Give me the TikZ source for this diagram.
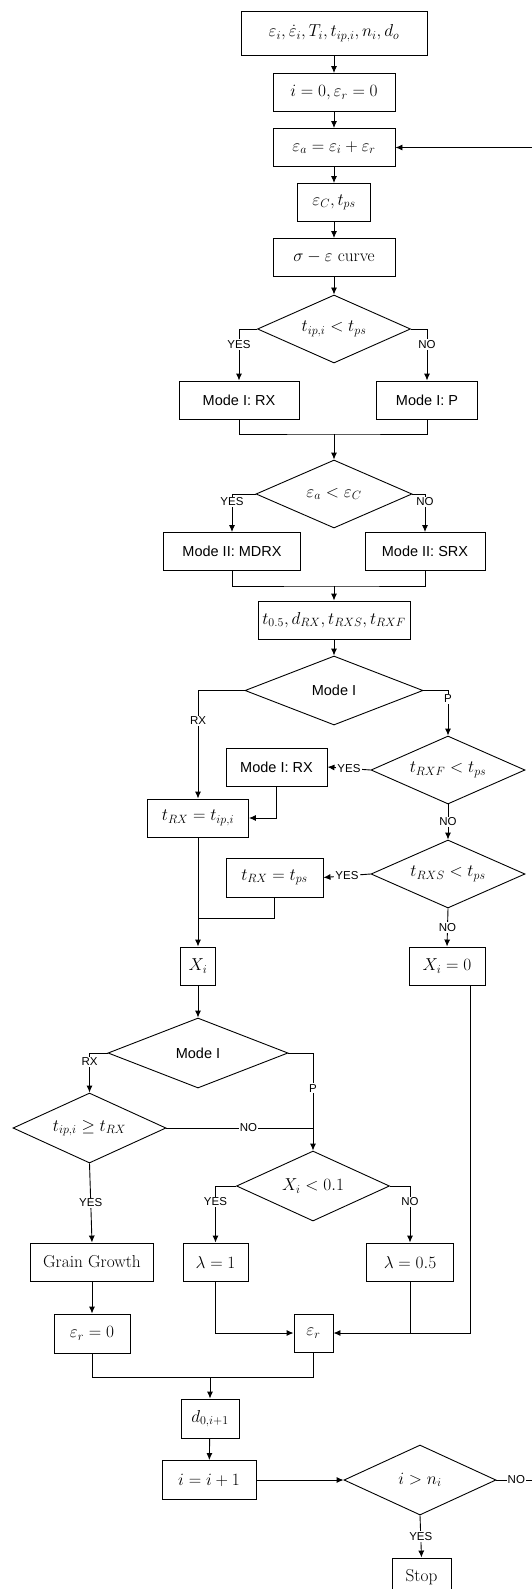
\documentclass[tikz,border=0pt]{standalone}
\usepackage{amsmath}
\usepackage{fontspec}
\setsansfont{Liberation Sans}
\usepackage{tikz}
\usetikzlibrary{shapes.geometric, arrows.meta, positioning, calc}
\newcommand{\boxfont}{\fontsize{17.28}{19}\selectfont}
\newcommand{\modefont}{\sffamily\fontsize{14.5}{17}\selectfont}
\newcommand{\tagfont}{\sffamily\fontsize{11.5}{13}\selectfont}
\tikzset{
  block/.style={rectangle, draw, inner sep=1pt, minimum height=38pt,
    font=\boxfont, line width=0.9pt},
  modeblock/.style={block, font=\modefont},
  decision/.style={diamond, draw, aspect=2.25, inner sep=0pt, minimum width=154pt,
    minimum height=68pt, font=\boxfont, line width=0.9pt},
  arrow/.style={-{Latex[length=7pt,width=6pt]}, line width=0.9pt},
  line/.style={line width=0.9pt},
  tag/.style={fill=white, inner sep=1pt, font=\tagfont}
}

\begin{document}
\begin{tikzpicture}[x=1pt, y=-1pt]
  \useasboundingbox (0,0) rectangle (532,1589);
  % Input and strain
  \node[block, minimum width=186pt, minimum height=44pt] (in) at (334,33) {$\varepsilon_i, \dot{\varepsilon}_i, T_i, t_{ip,i}, n_i, d_o$};
  \node[block, minimum width=122pt] (init) at (334,92.5) {$i = 0, \varepsilon_r = 0$};
  \node[block, minimum width=122pt] (strain) at (334,147.5) {$\varepsilon_a = \varepsilon_i + \varepsilon_r$};
  \node[block, minimum width=73pt] (crit) at (334,202.5) {$\varepsilon_C, t_{ps}$};
  \node[block, minimum width=122pt] (curve) at (334,257.5) {$\sigma - \varepsilon$ curve};

  % Mode I / Mode II
  \node[decision, minimum width=153pt] (dec1) at (334,329) {$t_{ip,i} < t_{ps}$};
  \node[modeblock, minimum width=120pt] (modeirx) at (239,400) {Mode I: RX};
  \node[modeblock, minimum width=101pt] (modeip) at (427,400) {Mode I: P};
  \coordinate (j1) at (334,434);
  \node[decision, minimum width=156pt] (dec2) at (334,494) {$\varepsilon_a < \varepsilon_C$};
  \node[modeblock, minimum width=137pt] (modeiimdrx) at (232,551.5) {Mode II: MDRX};
  \node[modeblock, minimum width=120pt] (modeiisrx) at (425,551.5) {Mode II: SRX};
  \coordinate (j2) at (334,586);
  \node[block, minimum width=152pt] (times) at (334,620) {$t_{0.5}, d_{RX}, t_{RXS}, t_{RXF}$};

  % Recrystallisation time
  \node[decision, minimum width=178pt, minimum height=69pt, font=\modefont] (dec3) at (334,690.5) {Mode I};
  \node[decision] (dec4) at (448,770) {$t_{RXF} < t_{ps}$};
  \node[modeblock, minimum width=101pt] (modeirxb) at (276.5,767) {Mode I: RX};
  \node[block, minimum width=101pt] (trxa) at (198,818) {$t_{RX} = t_{ip,i}$};
  \node[decision] (dec5) at (448,874) {$t_{RXS} < t_{ps}$};
  \node[block, minimum width=97pt, minimum height=39pt] (trxb) at (274.5,877.5) {$t_{RX} = t_{ps}$};
  \coordinate (j3) at (198,918);
  \node[block, minimum width=35pt] (xi) at (198,966) {$X_i$};
  \node[block, minimum width=76pt] (xizero) at (447,966) {$X_i = 0$};

  % Retained strain
  \node[decision, minimum width=180pt, minimum height=70pt, font=\modefont] (dec6) at (198,1053) {Mode I};
  \node[decision, minimum width=153pt, minimum height=70pt] (dec7) at (89.5,1128) {$t_{ip,i} \geq t_{RX}$};
  \node[decision, minimum width=153pt, minimum height=70pt] (dec8) at (313,1186) {$X_i < 0.1$};
  \node[block, minimum width=123pt] (grain) at (92,1262) {Grain Growth};
  \node[block, minimum width=65pt] (lamone) at (215.5,1262) {$\lambda = 1$};
  \node[block, minimum width=87pt] (lamhalf) at (410,1262) {$\lambda = 0.5$};
  \node[block, minimum width=76pt, minimum height=39pt] (epsrzero) at (92,1333.5) {$\varepsilon_r = 0$};
  \node[block, minimum width=39pt] (epsr) at (313.5,1333) {$\varepsilon_r$};
  \coordinate (j4) at (210,1377);
  \node[block, minimum width=58pt, minimum height=39pt] (dnext) at (210,1418.5) {$d_{0,i+1}$};
  \node[block, minimum width=94pt, minimum height=39pt] (inc) at (209,1480) {$i = i + 1$};
  \node[decision, minimum width=152pt, minimum height=70pt] (dec9) at (420,1480) {$i > n_i$};
  \node[block, minimum width=59pt] (stop) at (421.5,1577) {Stop};
  \coordinate (loop) at (545,1480);

  % Paths
  \draw[arrow] (in) -- (init);
  \draw[arrow] (init) -- (strain);
  \draw[arrow] (strain) -- (crit);
  \draw[arrow] (crit) -- (curve);
  \draw[arrow] (curve) -- (dec1);
  \draw[arrow] (dec1.west) -| node[tag, pos=0.65] {YES} (modeirx.north);
  \draw[arrow] (dec1.east) -| node[tag, pos=0.65] {NO} (modeip.north);
  \draw[line] (modeirx.south) |- (j1) -| (modeip.south);
  \draw[arrow] (j1) -- (dec2.north);
  \draw[arrow] (dec2.west) -| node[tag, pos=0.6] {YES} (modeiimdrx.north);
  \draw[arrow] (dec2.east) -| node[tag, pos=0.6] {NO} (modeiisrx.north);
  \draw[line] (modeiimdrx.south) |- (j2) -| (modeiisrx.south);
  \draw[arrow] (j2) -- (times.north);
  \draw[arrow] (times) -- (dec3);
  \draw[arrow] (dec3.west) -| node[tag, pos=0.64] {RX} (trxa.north);
  \draw[arrow] (dec3.east) -| node[tag, pos=0.59] {P} (dec4.north);
  \draw[arrow] (dec4.west) -- node[tag] {YES} (modeirxb.east);
  \draw[arrow] (modeirxb.south) |- (trxa.east);
  \draw[arrow] (dec4.south) -- node[tag] {NO} (dec5.north);
  \draw[arrow] (dec5.west) -- node[tag] {YES} (trxb.east);
  \draw[line] (trxb.south) |- (j3);
  \draw[arrow] (trxa.south) -- (xi.north);
  \draw[arrow] (dec5.south) -- node[tag] {NO} (xizero.north);
  \draw[arrow] (xi) -- (dec6);
  \draw[arrow] (dec6.west) -| node[tag, pos=0.61] {RX} (dec7.north);
  \draw[arrow] (dec6.east) -| node[tag, pos=0.68] {P} (dec8.north);
  \draw[line] (dec7.east) -- node[tag, pos=0.56] {NO} (dec7.east -| dec8.north);
  \draw[arrow] (dec7.south) -- node[tag] {YES} (grain.north);
  \draw[arrow] (dec8.west) -| node[tag, pos=0.64] {YES} (lamone.north);
  \draw[arrow] (dec8.east) -| node[tag, pos=0.64] {NO} (lamhalf.north);
  \draw[arrow] (grain) -- (epsrzero);
  \draw[arrow] (lamone.south) |- (epsr.west);
  \draw[line] (lamhalf.south) -- (lamhalf.south |- epsr.east);
  \draw[arrow] ([xshift=23pt]xizero.south) |- (epsr.east);
  \draw[line] (epsrzero.south) |- (j4) -| (epsr.south);
  \draw[arrow] (j4) -- (dnext.north);
  \draw[arrow] (dnext) -- (inc);
  \draw[arrow] (inc) -- (dec9);
  \draw[arrow] (dec9.south) -- node[tag] {YES} (stop.north);
  \draw[arrow] (dec9.east) -- node[tag, pos=0.41] {NO} (loop) |- (strain.east);
\end{tikzpicture}
\end{document}
